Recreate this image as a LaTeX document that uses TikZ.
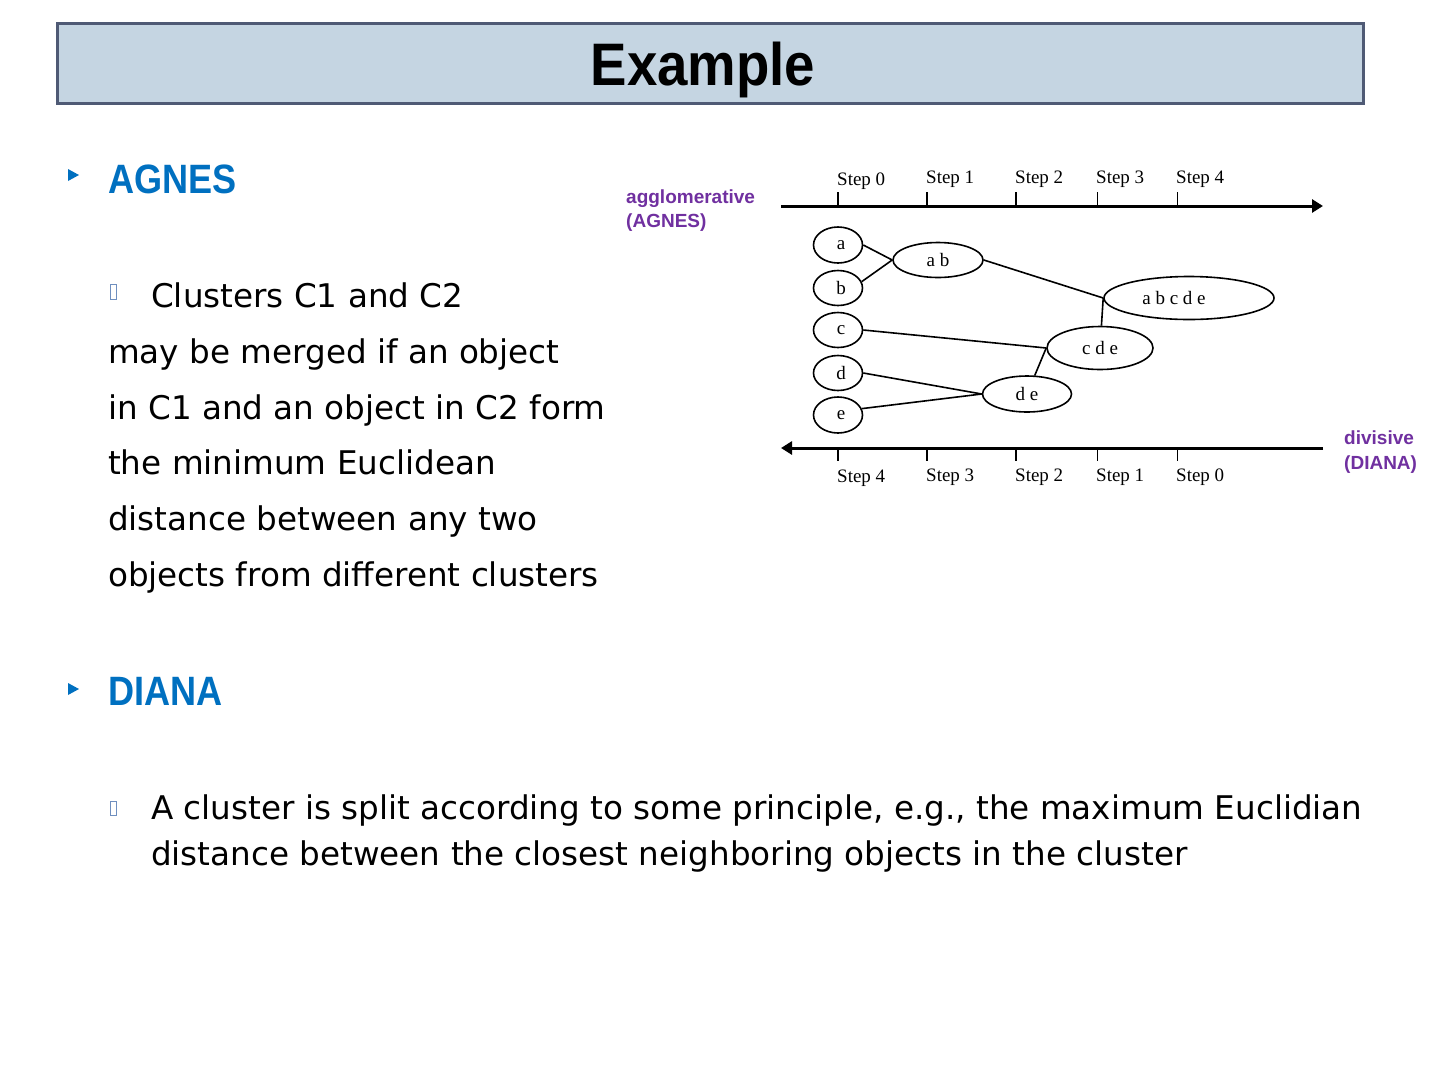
\documentclass[tikz,border=0pt]{standalone}
\usepackage{fontspec}
\usetikzlibrary{shapes.geometric,arrows.meta}
\setmainfont{DejaVu Sans}
\newfontfamily\headfont[FakeStretch=0.88]{Liberation Sans}
\newfontfamily\titlefont[FakeStretch=0.91]{Liberation Sans}
\newfontfamily\serifdg{Liberation Serif}
\newfontfamily\labfont{Liberation Sans}
\definecolor{agblue}{HTML}{0070C0}
\definecolor{agpurple}{HTML}{7030A0}
\definecolor{titlefill}{HTML}{C5D5E2}
\definecolor{titledraw}{HTML}{4F5A75}
\definecolor{tofu}{HTML}{6F8FBF}
\tikzset{
  body/.style={anchor=base west, inner sep=0pt, font=\fontsize{32.6}{40}\selectfont},
  heading/.style={anchor=base west, inner sep=0pt, text=agblue, font=\headfont\bfseries\fontsize{41}{48}\selectfont},
  purplelbl/.style={anchor=base west, inner sep=0pt, text=agpurple, font=\labfont\bfseries\fontsize{19}{22}\selectfont},
  steplbl/.style={anchor=base west, inner sep=0pt, font=\serifdg\fontsize{19}{22}\selectfont},
  ell/.style={draw, ellipse, line width=1.6pt, inner sep=0pt, font=\serifdg\fontsize{19}{22}\selectfont},
  conn/.style={line width=1.6pt},
  axis/.style={line width=3pt},
  tickthick/.style={line width=2pt},
  tickthin/.style={line width=1pt},
  tip/.style={-{Triangle[length=11pt,width=13pt]}},
}
\begin{document}
\begin{tikzpicture}[x=1pt,y=-1pt]
\useasboundingbox (0,0) rectangle (1440,1080);
\fill[white] (0,0) rectangle (1440,1080);

% title bar
\node[draw=titledraw, fill=titlefill, line width=2.5pt, minimum width=1306pt, minimum height=80pt, anchor=north west, inner sep=0pt] (titlebar) at (56,22) {};
\node[anchor=base, inner sep=0pt, font=\titlefont\bfseries\fontsize{60}{60}\selectfont] (titletext) at (703,85) {Example};

% left column
\fill[agblue] (68,169) -- (68,181) -- (79,175) -- cycle;
\node[heading] (agnes) at (108,193) {AGNES};
\draw[tofu, line width=0.9pt, fill=white] (110.5,284) rectangle (116.5,299);
\node[body] (l1) at (151,307) {Clusters C1 and C2};
\node[body] (l2) at (108,363) {may be merged if an object};
\node[body] (l3) at (108,419) {in C1 and an object in C2 form};
\node[body] (l4) at (108,474.5) {the minimum Euclidean};
\node[body] (l5) at (108,530) {distance between any two};
\node[body] (l6) at (108,586) {objects from different clusters};

\fill[agblue] (68,683) -- (68,695) -- (79,689) -- cycle;
\node[heading] (diana) at (108,705) {DIANA};
\draw[tofu, line width=0.9pt, fill=white] (110.5,801) rectangle (116.5,815);
\node[body] (m1) at (151,819) {A cluster is split according to some principle, e.g., the maximum Euclidian};
\node[body] (m2) at (151,865) {distance between the closest neighboring objects in the cluster};

% side labels
\node[purplelbl] (ag1) at (626,203) {agglomerative};
\node[purplelbl] (ag2) at (626,227) {(AGNES)};
\node[purplelbl] (dv1) at (1344,444) {divisive};
\node[purplelbl] (dv2) at (1344,469) {(DIANA)};

% top axis
\coordinate (ta0) at (781,206);
\coordinate (ta1) at (1323,206);
\draw[axis, tip] (ta0) -- (ta1);
\draw[tickthick] (838,206) -- (838,192);
\draw[tickthick] (927,206) -- (927,192);
\draw[tickthick] (1016,206) -- (1016,192);
\draw[tickthin] (1097,206) -- (1097,192);
\draw[tickthin] (1177,206) -- (1177,192);
\node[steplbl] (ts0) at (837,185) {Step 0};
\node[steplbl] (ts1) at (926,183.5) {Step 1};
\node[steplbl] (ts2) at (1015,183.5) {Step 2};
\node[steplbl] (ts3) at (1096,183.5) {Step 3};
\node[steplbl] (ts4) at (1176,183.5) {Step 4};

% bottom axis
\coordinate (ba0) at (1323,448);
\coordinate (ba1) at (781,448);
\draw[axis, tip] (ba0) -- (ba1);
\draw[tickthick] (838,448) -- (838,461);
\draw[tickthick] (927,448) -- (927,461);
\draw[tickthick] (1016,448) -- (1016,461);
\draw[tickthin] (1097,448) -- (1097,461);
\draw[tickthin] (1177,448) -- (1177,461);
\node[steplbl] (bs4) at (837,482.7) {Step 4};
\node[steplbl] (bs3) at (926,481.7) {Step 3};
\node[steplbl] (bs2) at (1015,481.7) {Step 2};
\node[steplbl] (bs1) at (1096,481.7) {Step 1};
\node[steplbl] (bs0) at (1176,481.7) {Step 0};

% clusters
\node[ell, minimum width=49pt, minimum height=36pt] (a) at (838,245) {\hspace*{6pt}a};
\node[ell, minimum width=49pt, minimum height=35pt] (b) at (838,288) {\hspace*{6pt}b};
\node[ell, minimum width=49pt, minimum height=35pt] (c) at (838,330) {\hspace*{6pt}c};
\node[ell, minimum width=49pt, minimum height=35pt] (d) at (838,373) {\hspace*{6pt}d};
\node[ell, minimum width=49pt, minimum height=36pt] (e) at (838,415) {\hspace*{6pt}e};
\node[ell, minimum width=90pt, minimum height=35pt] (ab) at (938,260) {a b};
\node[ell, minimum width=170pt, minimum height=43pt] (abcde) at (1189,298) {a b c d e\hspace*{30pt}};
\node[ell, minimum width=106pt, minimum height=43pt] (cde) at (1100,348) {c d e};
\node[ell, minimum width=89pt, minimum height=36pt] (de) at (1027,394) {d e};

\draw[conn] (a.east) -- (ab.west);
\draw[conn] (b.15) -- (ab.west);
\draw[conn] (ab.east) -- (abcde.west);
\draw[conn] (c.east) -- (cde.west);
\draw[conn] (d.east) -- (de.west);
\draw[conn] (e.15) -- (de.west);
\draw[conn] (de) -- (cde.west);
\draw[conn] (cde) -- (abcde.west);
\end{tikzpicture}
\end{document}
